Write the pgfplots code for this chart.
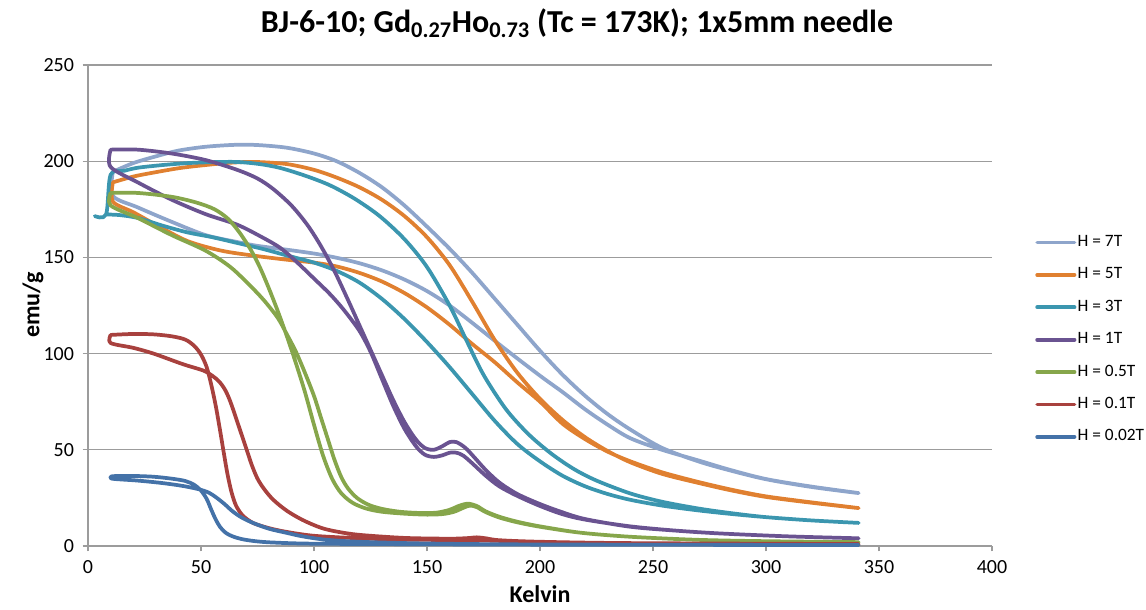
\documentclass[border=0pt]{standalone}
\usepackage{fontspec}
\setmainfont{Carlito}
\usepackage{pgfplots}
\pgfplotsset{compat=1.18}
\definecolor{c7}{HTML}{8EA5CB}
\definecolor{c5}{HTML}{E08030}
\definecolor{c3}{HTML}{3B96AF}
\definecolor{c1}{HTML}{6A5391}
\definecolor{c05}{HTML}{86A64B}
\definecolor{c01}{HTML}{A8413E}
\definecolor{c002}{HTML}{4472A8}
\definecolor{gridgray}{HTML}{9C9C9C}
\begin{document}
\begin{tikzpicture}[x=1pt,y=1pt]
\path[use as bounding box] (0,0) rectangle (859.5,457.5);
\begin{axis}[
  at={(66pt,48pt)}, anchor=origin,
  scale only axis, width=678pt, height=360.75pt,
  xmin=0, xmax=400, ymin=0, ymax=250,
  xtick={0,50,...,400}, ytick={0,50,...,250},
  axis x line*=bottom, axis y line*=left,
  axis line style={draw=gridgray, line width=0.8pt, -},
  ymajorgrids, major grid style={draw=gridgray, line width=0.8pt},
  tick align=outside, major tick length=4pt,
  tick style={draw=gridgray, line width=0.8pt},
  /pgf/number format/assume math mode=true,
  tick label style={font=\fontsize{15}{17}\selectfont},
  xticklabel style={yshift=-3pt},
  yticklabel style={xshift=-3pt},
  clip=false,
  every axis plot/.append style={line width=2.8pt, smooth, tension=0.5, line cap=round, line join=round},
  legend cell align=left,
  legend style={at={(1.0476,0.651)}, anchor=north west, draw=none, fill=none,
    font=\fontsize{13}{15}\selectfont, row sep=10.3pt, inner sep=0pt,
    nodes={inner sep=1pt, text height=9pt, text depth=3pt}},
  legend image code/.code={\draw[#1] (0pt,0pt) -- (28pt,0pt);},
]
\addplot[c7] coordinates {
(11,194.5) (20,199) (30,202.5) (40,205.5) (52,207.5) (65,208.5) (75,208.4) (88,207) (100,204)
(110,200) (120,194) (130,186.5) (140,177) (150,166) (160,154.5) (170,142) (180,128.5) (190,115)
(200,101.5) (210,89) (220,78) (230,68.5) (240,60.5) (254,51) (270,44) (284,39.3) (300,34.7)
(320,30.7) (341,27.5)
(320,30.9) (300,34.8) (284,39.6) (270,44.5) (254,50) (240,56) (230,63) (220,71) (210,80)
(200,88.5) (185,102) (170,116) (160,125) (150,132.5) (140,138.5) (130,143.3) (120,147) (110,149.8)
(100,152) (88,154) (75,156) (66,158) (52,161.6) (37,168.5) (22,176) (11,182) (11,194.5)};
\addlegendentry{H = 7T}
\addplot[c5] coordinates {
(11,189) (20,192) (30,194.3) (41,196.5) (52,198) (63,199.2) (74,199.6) (88,198.5) (100,195.5)
(110,191.5) (120,186.5) (130,180) (140,171.5) (150,160.5) (160,146) (170,127) (180,107) (190,90)
(200,76.5) (210,65.5) (220,56.5) (230,49.3) (240,43.5) (254,37.5) (270,32.8) (285,28.8) (300,25.5)
(320,22.5) (341,19.7)
(320,22.7) (300,25.8) (285,29.2) (270,33.3) (254,38.3) (240,44) (230,49) (220,55.5) (210,63.5)
(200,75) (190,85) (180,95.5) (170,105) (160,115) (150,124) (140,131.5) (130,137.5) (120,142)
(110,145.3) (100,147.3) (88,148.8) (74,150.8) (59,153.5) (44,158.5) (30,167) (20,173.5) (11,179)
(11,189)};
\addlegendentry{H = 5T}
\addplot[c3] coordinates {
(3,171.5) (8,172.3) (10,193) (16,195) (22,196.6) (33,198) (44,199) (55,199.5) (66,199.6) (76,198.5)
(85,196.5) (96,192.5) (107,187.5) (118,180.5) (129,171.5) (140,159.5) (150,145) (160,125)
(167,108) (175,89) (185,71) (195,58) (205,48) (215,40) (225,34) (240,27.3) (254,23) (270,19.5)
(285,17) (300,15) (320,13.3) (341,12)
(320,13.3) (300,15) (285,16.6) (270,18.5) (254,21) (240,24) (230,27) (220,31) (210,36.5) (200,44)
(190,53) (180,65) (170,79) (160,93) (150,106) (140,118) (130,128.5) (120,137) (110,143) (100,147.3)
(88,151) (77,154.5) (66,157.5) (55,160.5) (44,163) (33,166.5) (22,170.5) (14,172) (8,172.3)};
\addlegendentry{H = 3T}
\addplot[c1] coordinates {
(10,206) (22,206) (37,204) (52,200.6) (66,195.5) (75,191) (82,185.5) (90,177) (97,167) (103,156)
(109,143) (115,128) (120,115) (125,102) (130,89) (135,76) (140,64.5) (145,55.5) (149,51) (153,50)
(157,52) (160,54) (163,54) (167,51) (171,46) (176,39.5) (182,33) (190,27) (200,21.8) (210,17.5)
(220,14) (240,10) (260,8) (280,6.5) (310,5) (341,4)
(310,5) (280,6.5) (260,8) (240,10.2) (220,13.7) (210,16.5) (200,20.8) (190,26) (182,31) (176,36.5)
(170,43) (166,47) (163,48.5) (160,48.5) (157,47.2) (153,46.3) (149,47.5) (145,52) (140,61) (135,73)
(130,87) (125,101) (120,112) (113,123) (107,131) (100,139) (92,148) (85,155) (77,160.5) (66,167)
(52,172.5) (37,180) (22,189) (10,197) (10,206)};
\addlegendentry{H = 1T}
\addplot[c05] coordinates {
(10,183.5) (22,183.5) (37,181.5) (48,178.5) (56,175) (62,170) (67,163) (72,154) (76,145) (80,134)
(84,122) (88,109) (92,95) (96,80) (100,63) (104,47) (108,35) (112,27.5) (117,22.5) (123,19.5)
(130,17.8) (140,16.8) (150,16.3) (157,16.6) (162,17.8) (166,19.8) (169,21) (172,20.2) (176,17.6)
(182,14.8) (190,12.3) (200,10) (218,6.9) (240,4.8) (270,3.2) (300,2.5) (341,2)
(300,2.5) (270,3.2) (240,4.8) (218,6.9) (200,10.2) (190,12.6) (182,15.2) (176,18) (172,20.8)
(168,22) (164,20.8) (160,18.8) (154,17.3) (146,17.2) (138,17.8) (130,19.3) (124,21.5) (119,25)
(115,30) (112,36) (109,45) (106,56) (103,67) (100,78) (96,90) (92,101) (88,110) (84,118.5)
(78,127.5) (72,135) (63,145) (52,153.5) (37,161.6) (22,170.5) (10,177) (10,183.5)};
\addlegendentry{H = 0.5T}
\addplot[c01] coordinates {
(10,109.7) (20,110.2) (29,110) (37,109) (43,107.3) (47,104) (50,99.5) (52.5,93) (54.5,84)
(56.5,73) (58.3,61) (60,49) (61.7,37.5) (63.5,28) (65.5,21) (68.5,15.8) (73,12) (80,9.3) (88,7.3)
(100,5.3) (120,4) (140,3.3) (170,3) (200,2.1) (240,1.5) (341,1)
(240,1.5) (200,2.2) (182,3) (176,4) (172,4.5) (168,4.1) (160,3.8) (140,4.2) (120,5.8) (110,7.5)
(103,9.5) (95,13.5) (88,18.3) (82,24) (78,29.5) (75,35) (72.5,42) (70.5,49) (68.5,56) (66.5,63)
(64.5,70) (62.5,76.5) (60.5,81.5) (58,85.5) (55,88.5) (51,91.2) (42,94.5) (29,100) (20,103)
(10,105.5) (10,109.7)};
\addlegendentry{H = 0.1T}
\addplot[c002] coordinates {
(10.6,36.3) (20,36.4) (29,36) (37,35) (43,33.8) (47,31.8) (50,28.8) (52.5,24.5) (54.5,19)
(56.5,13.8) (58.5,9.8) (61,6.8) (64,5) (68,3.6) (74,2.5) (82,1.8) (100,1.2) (150,0.9) (200,0.7)
(341,0.5)
(200,0.8) (150,1.3) (120,2.2) (105,3.3) (95,5) (88,6.8) (80,9) (73,12) (68,14.8) (64,18)
(60.5,21.7) (57,25) (53.5,27.7) (49,29.5) (42,31.2) (33,32.7) (22,34) (10.6,35) (10.6,36.3)};
\addlegendentry{H = 0.02T}
\end{axis}
\node[font=\bfseries\fontsize{24}{28}\selectfont, anchor=base] at (432.75,432.75) {BJ-6-10; Gd\textsubscript{0.27}Ho\textsubscript{0.73} (Tc = 173K); 1x5mm needle};
\node[font=\bfseries\fontsize{18}{21}\selectfont, anchor=base] at (405,5.25) {Kelvin};
\node[font=\bfseries\fontsize{18}{21}\selectfont, rotate=90] at (24.75,228.75) {emu/g};
\end{tikzpicture}
\end{document}
